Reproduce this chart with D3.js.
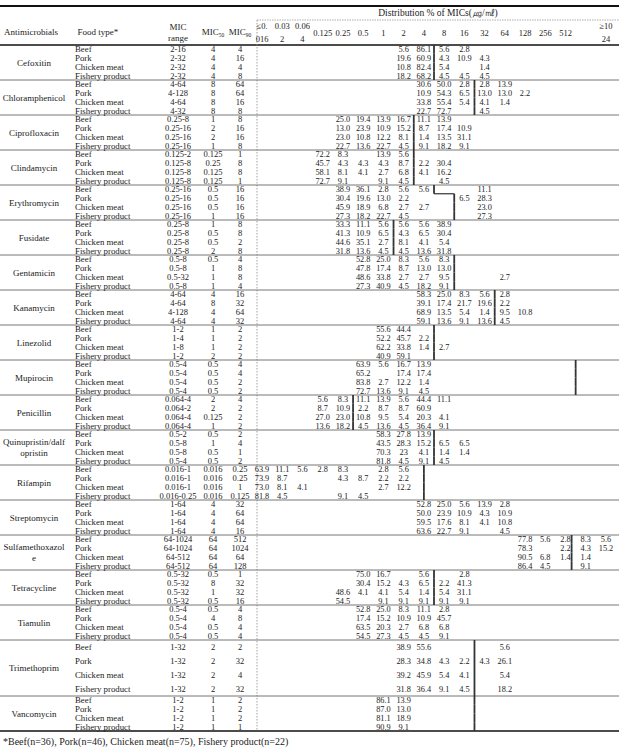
<!DOCTYPE html>
<html><head><meta charset="utf-8">
<script src="https://cdn.jsdelivr.net/npm/d3@7"></script>
<style>body{margin:0;background:#fff}</style>
</head><body><svg id="c" width="619" height="752"></svg>
<script>
const antimicrobials = ["Cefoxitin","Chloramphenicol","Ciprofloxacin","Clindamycin","Erythromycin","Fusidate","Gentamicin","Kanamycin","Linezolid","Mupirocin","Penicillin","Quinupristin/dalf\nopristin","Rifampin","Streptomycin","Sulfamethoxazol\ne","Tetracycline","Tiamulin","Trimethoprim","Vancomycin"];
const foodTypes = ["Beef","Pork","Chicken meat","Fishery product"];
const micTicks = ["≤0.\n016","0.03\n2","0.06\n4","0.125","0.25","0.5","1","2","4","8","16","32","64","128","256","512","≥10\n24"];
const micRange = [
 ["2-16","2-32","2-32","2-32"],["4-64","4-128","4-64","4-32"],["0.25-8","0.25-16","0.25-16","0.25-16"],
 ["0.125-2","0.125-8","0.125-8","0.125-8"],["0.25-16","0.25-16","0.25-16","0.25-16"],["0.25-8","0.25-8","0.25-8","0.25-8"],
 ["0.5-8","0.5-8","0.5-32","0.5-8"],["4-64","4-64","4-128","4-64"],["1-2","1-4","1-8","1-2"],
 ["0.5-4","0.5-4","0.5-4","0.5-4"],["0.064-4","0.064-2","0.064-4","0.064-4"],["0.5-2","0.5-8","0.5-8","0.5-4"],
 ["0.016-1","0.016-1","0.016-1","0.016-0.25"],["1-64","1-64","1-64","1-64"],["64-1024","64-1024","64-512","64-512"],
 ["0.5-32","0.5-32","0.5-32","0.5-32"],["0.5-4","0.5-4","0.5-4","0.5-4"],["1-32","1-32","1-32","1-32"],["1-2","1-2","1-2","1-2"]];
const mic50 = [
 ["4","4","4","4"],["8","8","8","8"],["1","2","2","1"],["0.125","0.25","0.125","0.125"],["0.5","0.5","0.5","1"],
 ["1","0.5","0.5","2"],["0.5","1","1","1"],["4","8","4","4"],["1","1","1","2"],["0.5","0.5","0.5","0.5"],
 ["2","2","0.125","1"],["0.5","1","0.5","0.5"],["0.016","0.016","0.016","0.016"],["4","4","4","4"],["64","64","64","64"],
 ["0.5","8","1","0.5"],["0.5","4","0.5","0.5"],["2","2","2","2"],["1","1","1","1"]];
const mic90 = [
 ["4","16","4","8"],["64","64","16","8"],["8","16","16","8"],["1","8","8","1"],["16","16","16","16"],
 ["8","8","2","8"],["4","8","8","4"],["16","32","64","32"],["2","2","2","2"],["4","4","2","2"],
 ["4","2","2","2"],["2","4","1","2"],["0.25","0.25","1","0.125"],["32","64","64","16"],["512","1024","64","128"],
 ["1","32","32","16"],["4","8","4","4"],["2","32","4","32"],["2","2","2","1"]];
// distribution % per MIC column slot ("-" = empty); slots 16-17 share the ≥1024 column
const distribution = [
 ["- - - - - - - 5.6 86.1 5.6 2.8","- - - - - - - 19.6 60.9 4.3 10.9 4.3","- - - - - - - 10.8 82.4 5.4 - 1.4","- - - - - - - 18.2 68.2 4.5 4.5 4.5"],
 ["- - - - - - - - 30.6 50.0 2.8 2.8 13.9","- - - - - - - - 10.9 54.3 6.5 13.0 13.0 2.2","- - - - - - - - 33.8 55.4 5.4 4.1 1.4","- - - - - - - - 22.7 72.7 - 4.5"],
 ["- - - - 25.0 19.4 13.9 16.7 11.1 13.9","- - - - 13.0 23.9 10.9 15.2 8.7 17.4 10.9","- - - - 23.0 10.8 12.2 8.1 1.4 13.5 31.1","- - - - 22.7 13.6 22.7 4.5 9.1 18.2 9.1"],
 ["- - - 72.2 8.3 - 13.9 5.6","- - - 45.7 4.3 4.3 4.3 8.7 2.2 30.4","- - - 58.1 8.1 4.1 2.7 6.8 4.1 16.2","- - - 72.7 9.1 - 9.1 4.5 - 4.5"],
 ["- - - - 38.9 36.1 2.8 5.6 5.6 - - 11.1","- - - - 30.4 19.6 13.0 2.2 - - 6.5 28.3","- - - - 45.9 18.9 6.8 2.7 2.7 - - 23.0","- - - - 27.3 18.2 22.7 4.5 - - - 27.3"],
 ["- - - - 33.3 11.1 5.6 5.6 5.6 38.9","- - - - 41.3 10.9 6.5 4.3 6.5 30.4","- - - - 44.6 35.1 2.7 8.1 4.1 5.4","- - - - 31.8 13.6 4.5 4.5 13.6 31.8"],
 ["- - - - - 52.8 25.0 8.3 5.6 8.3","- - - - - 47.8 17.4 8.7 13.0 13.0","- - - - - 48.6 33.8 2.7 2.7 9.5 - - 2.7","- - - - - 27.3 40.9 4.5 18.2 9.1"],
 ["- - - - - - - - 58.3 25.0 8.3 5.6 2.8","- - - - - - - - 39.1 17.4 21.7 19.6 2.2","- - - - - - - - 68.9 13.5 5.4 1.4 9.5 10.8","- - - - - - - - 59.1 13.6 9.1 13.6 4.5"],
 ["- - - - - - 55.6 44.4","- - - - - - 52.2 45.7 2.2","- - - - - - 62.2 33.8 1.4 2.7","- - - - - - 40.9 59.1"],
 ["- - - - - 63.9 5.6 16.7 13.9","- - - - - 65.2 - 17.4 17.4","- - - - - 83.8 2.7 12.2 1.4","- - - - - 72.7 13.6 9.1 4.5"],
 ["- - - 5.6 8.3 11.1 13.9 5.6 44.4 11.1","- - - 8.7 10.9 2.2 8.7 8.7 60.9","- - - 27.0 23.0 10.8 9.5 5.4 20.3 4.1","- - - 13.6 18.2 4.5 13.6 4.5 36.4 9.1"],
 ["- - - - - - 58.3 27.8 13.9","- - - - - - 43.5 28.3 15.2 6.5 6.5","- - - - - - 70.3 23 4.1 1.4 1.4","- - - - - - 81.8 4.5 9.1 4.5"],
 ["63.9 11.1 5.6 2.8 8.3 - 2.8 5.6","73.9 8.7 - - 4.3 8.7 2.2 2.2","73.0 8.1 4.1 - - - 2.7 12.2","81.8 4.5 - - 9.1 4.5"],
 ["- - - - - - - - 52.8 25.0 5.6 13.9 2.8","- - - - - - - - 50.0 23.9 10.9 4.3 10.9","- - - - - - - - 59.5 17.6 8.1 4.1 10.8","- - - - - - - - 63.6 22.7 9.1 - 4.5"],
 ["- - - - - - - - - - - - - 77.8 5.6 2.8 8.3 5.6","- - - - - - - - - - - - - 78.3 - 2.2 4.3 15.2","- - - - - - - - - - - - - 90.5 6.8 1.4 1.4","- - - - - - - - - - - - - 86.4 4.5 - 9.1"],
 ["- - - - - 75.0 16.7 - 5.6 - 2.8","- - - - - 30.4 15.2 4.3 6.5 2.2 41.3","- - - - 48.6 4.1 4.1 5.4 1.4 5.4 31.1","- - - - 54.5 - 9.1 9.1 9.1 9.1 9.1"],
 ["- - - - - 52.8 25.0 8.3 11.1 2.8","- - - - - 17.4 15.2 10.9 10.9 45.7","- - - - - 63.5 20.3 2.7 6.8 6.8","- - - - - 54.5 27.3 4.5 4.5 9.1"],
 ["- - - - - - - 38.9 55.6 - - - 5.6","- - - - - - - 28.3 34.8 4.3 2.2 4.3 26.1","- - - - - - - 39.2 45.9 5.4 4.1 - 5.4","- - - - - - - 31.8 36.4 9.1 4.5 - 18.2"],
 ["- - - - - - 86.1 13.9","- - - - - - 87.0 13.0","- - - - - - 81.1 18.9","- - - - - - 90.9 9.1"]];
// breakpoint line position (between MIC slots) per food type row
const breakpoints = [
 [8.5,8.5,8.5,8.5],[10.5,10.5,10.5,10.5],[7.5,7.5,7.5,7.5],[7.5,7.5,7.5,7.5],[8.5,9.5,9.5,9.5],
 [6.5,6.5,6.5,6.5],[9.5,9.5,9.5,9.5],[11.5,11.5,11.5,11.5],[8.5,8.5,8.5,8.5],[15.5,15.5,15.5,15.5],
 [4.5,4.5,4.5,4.5],[8.5,8.5,8.5,8.5],[8,8,8,8],[null,null,null,null],[15.3,15.3,15.3,15.3],
 [8.5,8.5,8.5,8.5],[null,null,null,null],[10.5,10.5,10.5,10.5],[10.5,10.5,10.5,10.5]];
const footnote = "*Beef(n=36), Pork(n=46), Chicken meat(n=75), Fishery product(n=22)";

const svg = d3.select("#c");
const FONT = "'Liberation Serif','DejaVu Serif',serif";
const INK = "#222";

// layout
const headerTop = 6, headerBottom = 45;
const groupH = antimicrobials.map(d=> d==="Trimethoprim" ? 56 : 35);
const groupTop = []; let acc = headerBottom;
groupH.forEach(h=>{ groupTop.push(acc); acc += h; });
const tableBottom = acc;
const slotX = d3.scaleLinear().domain([0,17]).range([262,606]);
const colX = {name:34, food:75, range:178, m50:213, m90:240};
const dataLeft = 257;
const rowY = (g,r)=> groupTop[g] + (r+0.5)*groupH[g]/4;

// rules
svg.append("line").attr("x1",0).attr("x2",619).attr("y1",headerTop).attr("y2",headerTop).attr("stroke","#111").attr("stroke-width",2);
svg.append("line").attr("x1",dataLeft).attr("x2",619).attr("y1",20).attr("y2",20).attr("stroke","#999").attr("stroke-width",0.8).attr("stroke-dasharray","1.5,1");
svg.append("line").attr("x1",0).attr("x2",619).attr("y1",headerBottom).attr("y2",headerBottom).attr("stroke","#111").attr("stroke-width",1.4);
svg.append("line").attr("x1",dataLeft).attr("x2",dataLeft).attr("y1",20).attr("y2",tableBottom).attr("stroke","#888").attr("stroke-width",0.8).attr("stroke-dasharray","1.5,1.5");
groupTop.slice(1).forEach(y=>{
  svg.append("line").attr("x1",0).attr("x2",619).attr("y1",y).attr("y2",y).attr("stroke","#777").attr("stroke-width",1);
});
svg.append("line").attr("x1",0).attr("x2",619).attr("y1",tableBottom).attr("y2",tableBottom).attr("stroke","#111").attr("stroke-width",1.6);

function txt(x,y,s,anchor,size){
  return svg.append("text").attr("x",x).attr("y",y).attr("dy","0.35em").attr("text-anchor",anchor||"middle")
    .attr("font-family",FONT).attr("font-size",size).attr("fill",INK).text(s);
}
function multi(x,yc,s,anchor,size,lh){
  const lines = s.split("\n"); const n = lines.length;
  lines.forEach((l,i)=> txt(x, yc + (i-(n-1)/2)*lh, l, anchor, size));
}

// header
txt(438,13,"Distribution % of MICs(㎍/㎖)","middle",9.5);
txt(31,32,"Antimicrobials","middle",9);
txt(98,32,"Food type*","middle",9);
multi(colX.range,32,"MIC\nrange","middle",9,11);
[["50",colX.m50],["90",colX.m90]].forEach(([sub,x])=>{
  const t = svg.append("text").attr("x",x).attr("y",32).attr("dy","0.35em").attr("text-anchor","middle")
    .attr("font-family",FONT).attr("font-size",9).attr("fill",INK);
  t.append("tspan").text("MIC");
  t.append("tspan").attr("font-size",5.5).attr("dy","2").text(sub);
});
micTicks.forEach((t,i)=>{
  const x = i===16 ? slotX(17) : slotX(i);
  multi(x, 33, t, "middle", 8.5, 13);
});

// body
antimicrobials.forEach((name,g)=>{
  multi(colX.name, groupTop[g]+groupH[g]/2, name, "middle", 9, 11);
  foodTypes.forEach((f,r)=>{
    const y = rowY(g,r);
    txt(colX.food, y, f, "start", 8.8);
    txt(colX.range, y, micRange[g][r], "middle", 8.5);
    txt(colX.m50, y, mic50[g][r], "middle", 8.5);
    txt(colX.m90, y, mic90[g][r], "middle", 8.5);
    distribution[g][r].split(/\s+/).forEach((v,s)=>{
      if (v !== "-") txt(slotX(s), y, v, "middle", 8.3);
    });
    const b = breakpoints[g][r];
    if (b !== null) {
      const rh = groupH[g]/4, top = groupTop[g] + r*rh;
      svg.append("line").attr("x1",slotX(b)).attr("x2",slotX(b)).attr("y1",top).attr("y2",top+rh)
        .attr("stroke","#333").attr("stroke-width",1.8);
      if (r>0 && breakpoints[g][r-1]!==null && breakpoints[g][r-1]!==b) {
        svg.append("line").attr("x1",slotX(breakpoints[g][r-1])).attr("x2",slotX(b)).attr("y1",top).attr("y2",top)
          .attr("stroke","#333").attr("stroke-width",1.2);
      }
    }
  });
});
txt(3, tableBottom+10, footnote, "start", 10);
</script></body></html>
